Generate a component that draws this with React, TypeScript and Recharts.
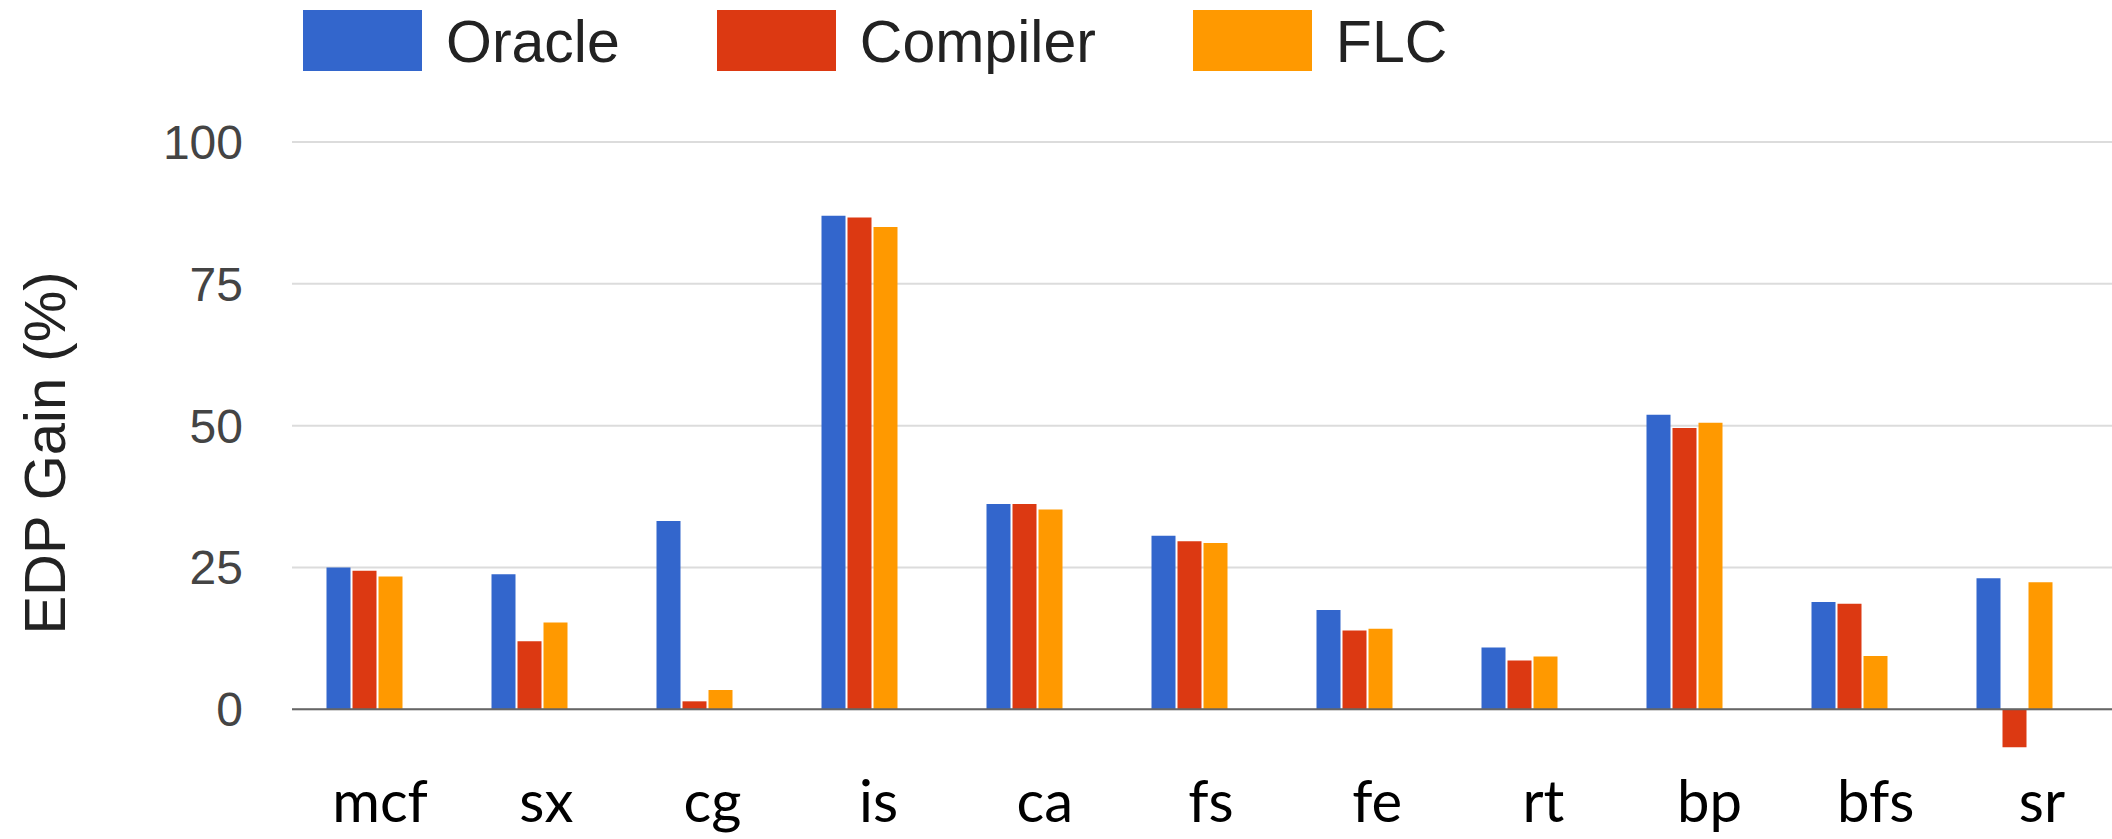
import {
  Bar,
  BarChart,
  CartesianGrid,
  Label,
  Legend,
  ReferenceLine,
  XAxis,
  YAxis,
} from "recharts";

const BENCHMARKS = ["mcf", "sx", "cg", "is", "ca", "fs", "fe", "rt", "bp", "bfs", "sr"];

const ORACLE = [25.0, 23.8, 33.2, 87.0, 36.2, 30.6, 17.5, 10.9, 51.9, 18.9, 23.1];
const COMPILER = [24.4, 12.0, 1.4, 86.7, 36.2, 29.6, 13.9, 8.6, 49.6, 18.6, -6.7];
const FLC = [23.4, 15.3, 3.4, 85.0, 35.2, 29.3, 14.2, 9.3, 50.5, 9.4, 22.4];

const Y_TICKS = [0, 25, 50, 75, 100];

const SERIES = [
  { key: "Oracle", color: "#3366cc" },
  { key: "Compiler", color: "#dc3912" },
  { key: "FLC", color: "#ff9900" },
];

const ARIAL = "Arial, 'Liberation Sans', sans-serif";

const data = BENCHMARKS.map((name, i) => ({
  name,
  Oracle: ORACLE[i],
  Compiler: COMPILER[i],
  FLC: FLC[i],
}));

function SeriesLegend() {
  return (
    <div style={{ display: "flex", alignItems: "center" }}>
      {SERIES.map((s) => (
        <div
          key={s.key}
          style={{ display: "flex", alignItems: "center", marginRight: 97 }}
        >
          <span
            style={{
              display: "inline-block",
              width: 119,
              height: 61,
              backgroundColor: s.color,
            }}
          />
          <span
            style={{
              marginLeft: 24,
              marginTop: 4,
              fontFamily: ARIAL,
              fontSize: 59,
              color: "#222",
              lineHeight: 1.15,
            }}
          >
            {s.key}
          </span>
        </div>
      ))}
    </div>
  );
}

function BenchmarkTick({ x, y, payload }: { x?: number; y?: number; payload?: { value: string } }) {
  return (
    <text
      x={x}
      y={y}
      dy={26}
      textAnchor="middle"
      fill="#000"
      fontSize={58}
      fontFamily="Lato, 'Open Sans', sans-serif"
    >
      {payload?.value}
    </text>
  );
}

export default function App() {
  return (
    <div
      style={{
        position: "absolute",
        left: 0,
        top: 0,
        width: 2112,
        height: 839,
        background: "#fff",
      }}
    >
      <BarChart
        width={2112}
        height={839}
        data={data}
        margin={{ top: 142, right: 0, bottom: 0, left: 0 }}
        barSize={24}
        barGap={2}
      >
        <CartesianGrid
          xAxisId="bars"
          vertical={false}
          horizontalValues={Y_TICKS}
          stroke="#dcdcdc"
          strokeWidth={2}
        />
        {/* bar positions: evenly spaced groups slightly left of the grid */}
        <XAxis
          xAxisId="bars"
          dataKey="name"
          hide
          padding={{ left: -10.5, right: 15.5 }}
        />
        {/* category captions sit on their own slightly wider spacing */}
        <XAxis
          xAxisId="labels"
          dataKey="name"
          height={73}
          axisLine={false}
          tickLine={false}
          tickSize={0}
          tickMargin={0}
          interval={0}
          padding={{ left: 5, right: -13 }}
          tick={<BenchmarkTick />}
        />
        <YAxis
          width={292}
          domain={[-10, 100]}
          ticks={Y_TICKS}
          axisLine={false}
          tickLine={false}
          tickSize={0}
          tickMargin={49}
          tick={{ fill: "#444", fontSize: 48, fontFamily: ARIAL }}
        >
          <Label
            content={() => (
              <text
                x={65}
                y={453}
                transform="rotate(-90, 65, 453)"
                textAnchor="middle"
                fill="#222"
                fontSize={58}
                fontFamily={ARIAL}
              >
                EDP Gain (%)
              </text>
            )}
          />
        </YAxis>
        <Legend
          layout="horizontal"
          verticalAlign="middle"
          align="center"
          content={<SeriesLegend />}
          wrapperStyle={{ top: 5, left: 303, width: "auto" }}
        />
        {SERIES.map((s) => (
          <Bar
            key={s.key}
            xAxisId="bars"
            dataKey={s.key}
            fill={s.color}
            isAnimationActive={false}
          />
        ))}
        <ReferenceLine xAxisId="bars" y={0} stroke="#666" strokeWidth={2} />
      </BarChart>
    </div>
  );
}
